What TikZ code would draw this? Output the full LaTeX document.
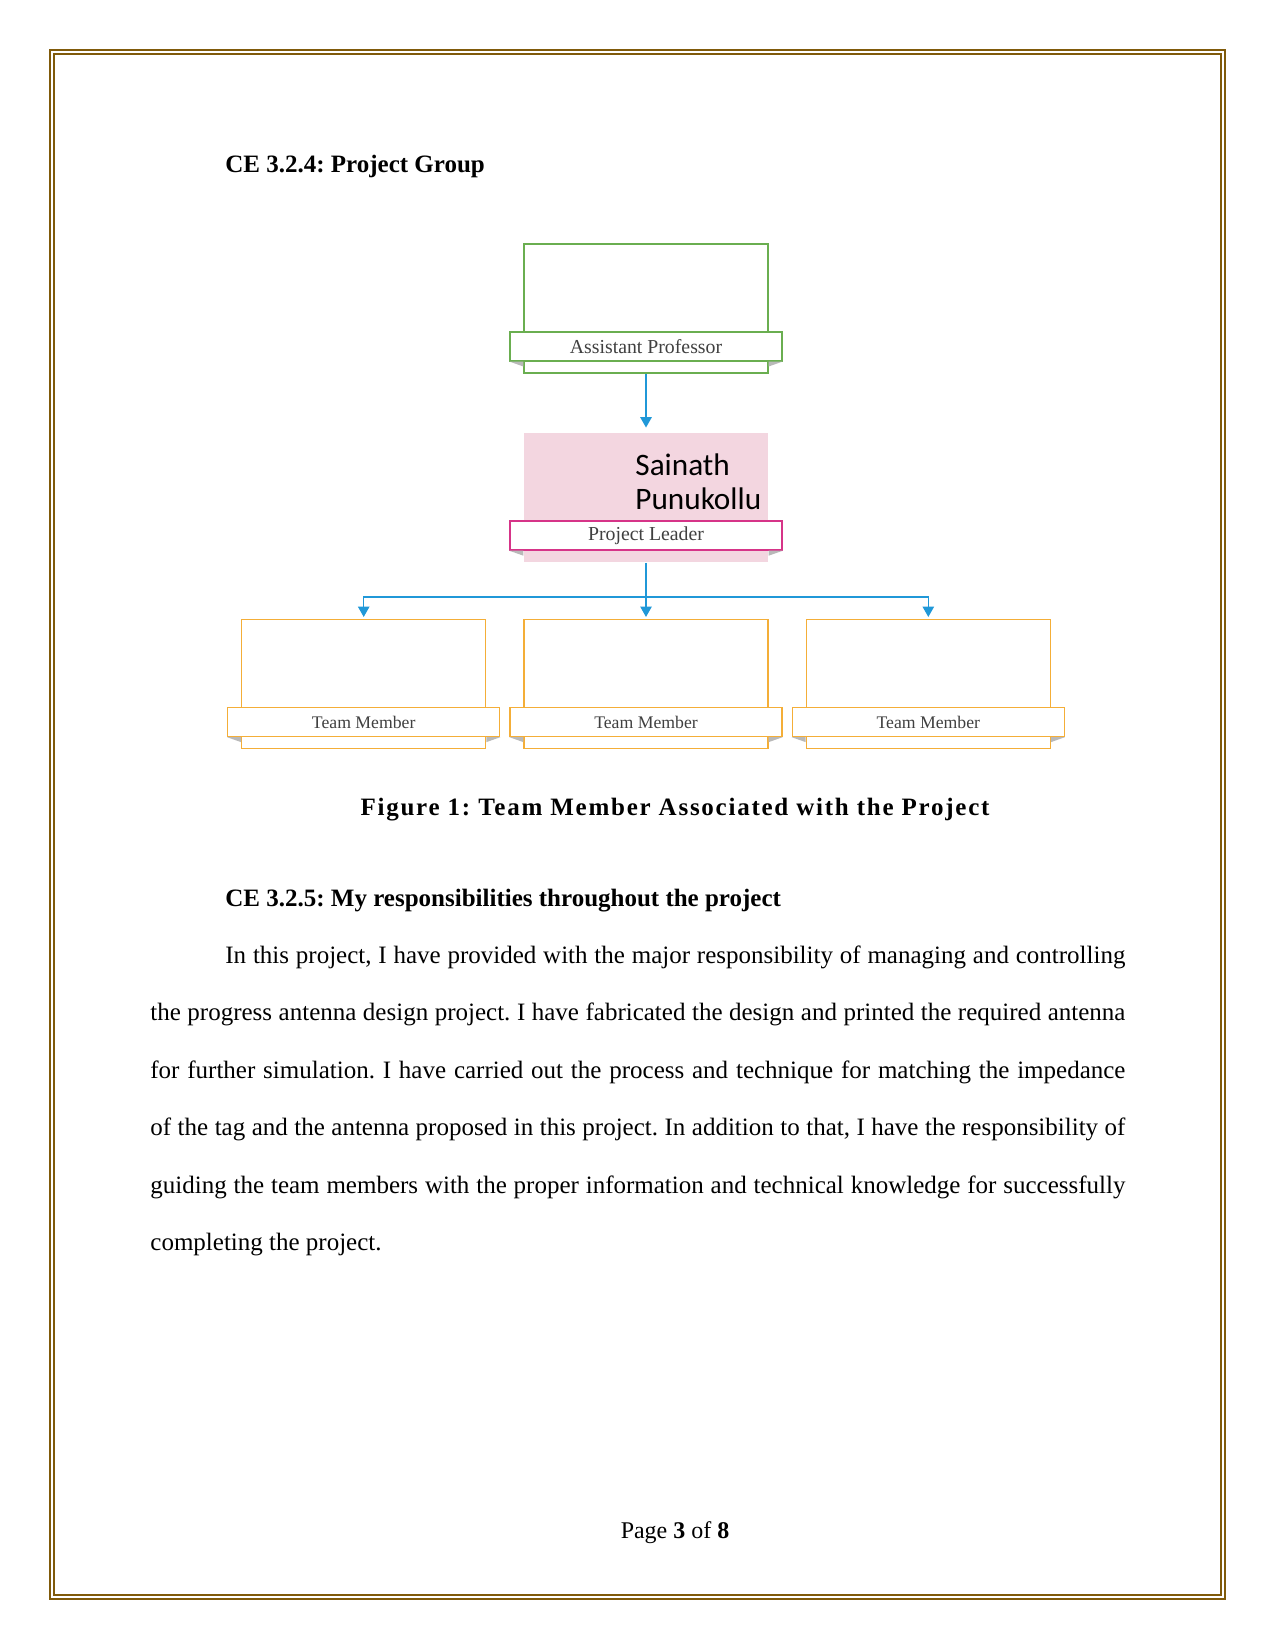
\documentclass[tikz,border=0pt]{standalone}
\usepackage{fontspec}
\setmainfont{Liberation Serif}
\newfontfamily\namefont{Carlito}
\newfontfamily\capfont[LetterSpace=7]{Liberation Serif}
\usepackage{tikz}
\definecolor{FrameBrown}{RGB}{128,90,10}
\definecolor{BoxGreen}{RGB}{106,174,80}
\definecolor{BoxOrange}{RGB}{244,174,56}
\definecolor{LeadPink}{RGB}{243,214,224}
\definecolor{LeadMagenta}{RGB}{214,52,136}
\definecolor{LinkBlue}{RGB}{32,152,216}
\definecolor{LabelGray}{RGB}{64,64,64}
\usetikzlibrary{
	positioning,
	calc,
	arrows.meta
}
\frenchspacing

\begin{document}
\begin{tikzpicture}[
	x=0.48pt, y=-0.48pt,
	card/.style={draw, minimum width=117.1pt, minimum height=61.9pt, inner sep=0pt, line width=0.6pt},
	profcard/.style={card, draw=BoxGreen},
	leadcard/.style={card, draw=none, fill=LeadPink},
	teamcard/.style={card, draw=BoxOrange},
	bar/.style={draw, fill=white, minimum width=130.6pt, minimum height=13.9pt, inner sep=0pt, line width=0.6pt, text=LabelGray, font=\fontsize{9.5}{11}\selectfont},
	profbar/.style={bar, draw=BoxGreen},
	leadbar/.style={bar, draw=LeadMagenta, line width=0.8pt},
	teambar/.style={bar, draw=BoxOrange, font=\fontsize{8.5}{10}\selectfont},
	fold/.style={fill=gray!55},
	link/.style={draw=LinkBlue, line width=0.7pt, -{Triangle[width=5.5pt,length=5pt]}},
	pageframe/.style={draw=FrameBrown, line width=0.8pt},
	head/.style={font=\bfseries\fontsize{12}{14}\selectfont, inner sep=0pt, anchor=base west},
	figcap/.style={font=\capfont\bfseries\fontsize{12}{14}\selectfont, inner sep=0pt, anchor=base},
	para/.style={text width=468pt, align=justify, inner sep=0pt, anchor=base west, font=\fontsize{12}{27.6}\selectfont},
	namebig/.style={font=\namefont\fontsize{15}{18}\selectfont, inner sep=0pt, anchor=base west},
	footer/.style={font=\fontsize{11.5}{14}\selectfont, inner sep=0pt, anchor=base}
]

	\useasboundingbox (0,0) rectangle (1275,1650);
	\fill[white] (0,0) rectangle (1275,1650);
	\draw[pageframe] (50,50) rectangle (1225,1599);
	\draw[pageframe] (54,54) rectangle (1221,1595);

	\node[head] (h1) at (225,173) {CE 3.2.4: Project Group};

	\node[profcard] (prof) at (646,308.5) {};
	\node[profbar, above=5.8pt of prof.south] (pb) {Assistant Professor};

	\node[leadcard, below=28.3pt of prof] (lead) {};
	\node[leadbar, above=5.8pt of lead.south] (lb) {Project Leader};
	\node[namebig] (first) at (635,475) {Sainath};
	\node[namebig] (last) at (635,509) {Punukollu};

	\node[teamcard, below=27pt of lead] (tm2) {};
	\node[teamcard, left=17.8pt of tm2] (tm1) {};
	\node[teamcard, right=17.8pt of tm2] (tm3) {};
	\node[teambar, above=5.8pt of tm1.south] (b1) {Team Member};
	\node[teambar, above=5.8pt of tm2.south] (b2) {Team Member};
	\node[teambar, above=5.8pt of tm3.south] (b3) {Team Member};

	\foreach \c/\b in {prof/pb, lead/lb, tm1/b1, tm2/b2, tm3/b3} {
		\fill[fold] (\b.south west) -- (\c.west |- \b.south) -- ++(0,5) -- cycle;
		\fill[fold] (\b.south east) -- (\c.east |- \b.south) -- ++(0,5) -- cycle;
	}

	\coordinate (bus) at ([yshift=-16.5pt]lead.south);
	\draw[link, shorten >=2.4pt] (prof) -- (lead);
	\draw[link, shorten >=1pt] (lead) -- (tm2);
	\draw[link, shorten >=1pt] (bus) -| (tm1);
	\draw[link, shorten >=1pt] (bus) -| (tm3);

	\node[figcap] (cap) at (675,815) {Figure 1: Team Member Associated with the Project};

	\node[head] (h2) at (225,906) {CE 3.2.5: My responsibilities throughout the project};

	\node[para] (body) at (150,963) {\hspace*{36pt}In this project, I have provided with the major responsibility of managing and controlling\linebreak the progress antenna design project. I have fabricated the design and printed the required antenna\linebreak for further simulation. I have carried out the process and technique for matching the impedance\linebreak of the tag and the antenna proposed in this project. In addition to that, I have the responsibility of\linebreak guiding the team members with the proper information and technical knowledge for successfully\linebreak completing the project.};

	\node[footer] (pg) at (675,1538) {Page \textbf{3} of \textbf{8}};

\end{tikzpicture}
\end{document}
